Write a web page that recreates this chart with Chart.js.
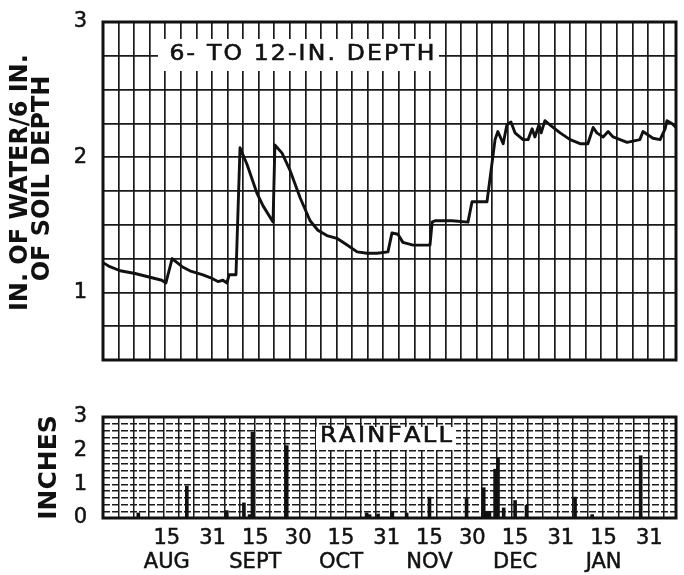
<!DOCTYPE html>
<html><head><meta charset="utf-8">
<script src="https://cdn.jsdelivr.net/npm/chart.js@4.4.1/dist/chart.umd.min.js"></script>
<style>
html,body{margin:0;padding:0;background:#fff;}
#wrap{position:relative;width:684px;height:575px;overflow:hidden;background:#fff;}
#c1{position:absolute;left:0;top:0;}
#c2{position:absolute;left:0;top:380px;}
</style></head><body>
<div id="wrap">
<canvas id="c1" width="684" height="370"></canvas>
<canvas id="c2" width="684" height="195"></canvas>
</div>
<script>
// Days counted from Aug 1 (day 0) to Feb 1 (day 184)
const waterDays = [0,2.2,5.5,10.3,15.4,18.9,20.2,22.2,25.4,27.9,32.1,34.4,36.9,38.5,39.8,40.5,42.7,44.0,46.2,49.5,51.4,54.6,55.2,57.5,60.1,63.3,66.5,69.0,71.9,75.1,78.4,81.6,84.8,88.0,91.5,92.8,94.7,96.3,99.6,105.0,105.7,106.6,112.1,117.2,118.5,123.3,125.9,126.8,128.5,129.7,131.0,132.3,134.9,136.5,137.8,138.7,140.0,140.7,141.9,143.5,146.8,150.0,153.2,155.7,157.4,158.6,160.6,162.2,163.8,168.3,172.4,173.4,176.6,178.9,180.5,181.1,182.7,184.0];
const waterValues = [1.22,1.19,1.16,1.14,1.11,1.09,1.07,1.25,1.19,1.16,1.13,1.11,1.08,1.09,1.07,1.13,1.13,2.07,1.95,1.73,1.64,1.52,2.09,2.03,1.90,1.70,1.53,1.46,1.42,1.40,1.35,1.30,1.29,1.29,1.30,1.44,1.43,1.37,1.35,1.35,1.52,1.53,1.53,1.52,1.67,1.67,2.13,2.19,2.10,2.24,2.26,2.18,2.13,2.13,2.21,2.15,2.24,2.18,2.27,2.24,2.18,2.13,2.10,2.10,2.22,2.18,2.15,2.19,2.15,2.11,2.13,2.19,2.14,2.13,2.21,2.27,2.25,2.22];

const rainDays = [4,21,35,41,43,44,56,84,85,88,93,98,106,119,125,126,127,129,130,132,136,140,157,163,180];
const rainInches = [0.15,0.95,0.22,0.45,0.1,2.55,2.15,0.15,0.1,0.12,0.2,0.15,0.62,0.58,0.9,0.2,0.2,1.45,1.8,0.3,0.52,0.38,0.62,0.1,1.85];

const tickDays = [14,30,45,60,75,91,106,121,136,152,167,183];
const tickNumbers = ['15','31','15','30','15','31','15','30','15','31','15','31'];
const tickMonths = ['AUG','','SEPT','','OCT','','NOV','','DEC','','JAN',''];

const dayMin = 0, dayMax = 184, gridStep = 5;
const FONT = "'DejaVu Sans', sans-serif";
const INK = '#111';

Chart.defaults.font.family = FONT;
Chart.defaults.color = INK;

function gridTicks(scale){
  const t = [];
  for (let d = dayMin; d <= dayMax - 1; d += gridStep) t.push({value: d});
  scale.ticks = t;
}
function isWhole(v){ return Math.abs(v - Math.round(v)) < 1e-6; }

// draws text stretched horizontally by sx, with extra spacing so that it spans targetWidth
function stretchedText(ctx, text, cx, cy, font, sx, targetWidth){
  ctx.save();
  ctx.font = font;
  ctx.fillStyle = INK;
  ctx.strokeStyle = INK;
  ctx.lineWidth = 0.6;
  ctx.textBaseline = 'middle';
  ctx.textAlign = 'left';
  const chars = [...text];
  const widths = chars.map(c => ctx.measureText(c).width * sx);
  const natural = widths.reduce((a,b)=>a+b,0);
  const gap = chars.length > 1 ? (targetWidth - natural) / (chars.length - 1) : 0;
  let x = cx - targetWidth / 2;
  chars.forEach((c,i) => {
    ctx.save();
    ctx.translate(x, cy);
    ctx.scale(sx, 1);
    ctx.fillText(c, 0, 0);
    ctx.strokeText(c, 0, 0);
    ctx.restore();
    x += widths[i] + gap;
  });
  ctx.restore();
}

function framePlugin(label){
  return {
    id: 'frame_' + label.text.replace(/\W/g,''),
    beforeDatasetsDraw(chart){
      const ctx = chart.ctx;
      ctx.save();
      ctx.fillStyle = '#fff';
      ctx.fillRect(label.bx, label.by, label.bw, label.bh);
      ctx.restore();
      stretchedText(ctx, label.text, label.cx, label.cy, label.font, label.sx, label.tw);
    },
    afterDatasetsDraw(chart){
      const {ctx, chartArea: a} = chart;
      ctx.save();
      ctx.strokeStyle = INK;
      ctx.lineWidth = 3;
      ctx.strokeRect(a.left, a.top, a.right - a.left, a.bottom - a.top);
      ctx.restore();
    }
  };
}

function fixY(s){ s.width = 103; s.paddingTop = 0; s.paddingBottom = 0; }
function fixX(h){ return s => { s.height = h; s.paddingLeft = 0; s.paddingRight = 0; }; }
const tickFont = {size: 21};
const tickInk = {color: INK, textStrokeColor: INK, textStrokeWidth: 0.5};

// ---------- top chart: soil water ----------
new Chart(document.getElementById('c1'), {
  type: 'line',
  data: {
    datasets: [{
      data: waterDays.map((d,i) => ({x: d, y: waterValues[i]})),
      borderColor: INK,
      borderWidth: 2.9,
      borderJoinStyle: 'round',
      pointRadius: 0,
      tension: 0,
      fill: false
    }]
  },
  options: {
    responsive: false,
    animation: false,
    devicePixelRatio: 1,
    layout: {padding: {top: 22, right: 8, bottom: 10, left: 0}},
    plugins: {legend: {display: false}, tooltip: {enabled: false}},
    scales: {
      x: {
        type: 'linear', min: dayMin, max: dayMax,
        afterBuildTicks: gridTicks,
        ticks: {display: false},
        grid: {color: '#1a1a1a', lineWidth: 1.7, drawTicks: false},
        border: {display: false},
        afterFit: fixX(0)
      },
      y: {
        min: 0.5, max: 3,
        ticks: Object.assign({stepSize: 0.25, autoSkip: false, padding: 16, font: tickFont,
          callback: v => isWhole(v) ? String(Math.round(v)) : ''}, tickInk),
        grid: {color: '#1a1a1a', lineWidth: 1.7, drawTicks: false},
        border: {display: false},
        title: {display: true, text: ['\u00a0\u00a0IN. OF WATER/6 IN.', '\u00a0\u00a0\u00a0OF SOIL DEPTH'],
          font: {size: 24, weight: 'bold', lineHeight: 0.92}, color: INK, padding: {top: 10, bottom: 0}},
        afterFit: fixY
      }
    }
  },
  plugins: [framePlugin({text: '6- TO 12-IN. DEPTH', bx: 158, by: 39, bw: 281, bh: 32,
    cx: 302, cy: 55, font: "21px " + FONT, sx: 1.12, tw: 265})]
});

// ---------- bottom chart: rainfall ----------
new Chart(document.getElementById('c2'), {
  type: 'bar',
  data: {
    datasets: [{
      data: rainDays.map((d,i) => ({x: d, y: rainInches[i]})),
      backgroundColor: INK,
      borderWidth: 0,
      barThickness: 3,
      xAxisID: 'x'
    }]
  },
  options: {
    responsive: false,
    animation: false,
    devicePixelRatio: 1,
    layout: {padding: {top: 37, right: 8, bottom: 0, left: 0}},
    plugins: {legend: {display: false}, tooltip: {enabled: false}},
    scales: {
      x: {
        type: 'linear', min: dayMin, max: dayMax, position: 'bottom',
        afterBuildTicks: s => { s.ticks = tickDays.map(v => ({value: v})); },
        ticks: Object.assign({autoSkip: false, maxRotation: 0, padding: 8,
          font: {size: 21, lineHeight: 1.15},
          callback: (v, i) => tickMonths[i] ? [tickNumbers[i], tickMonths[i]] : tickNumbers[i]}, tickInk),
        grid: {display: false, drawTicks: false},
        border: {display: false},
        afterFit: fixX(57)
      },
      xg: {
        type: 'linear', min: dayMin, max: dayMax, position: 'bottom',
        afterBuildTicks: gridTicks,
        ticks: {display: false},
        grid: {color: '#1a1a1a', lineWidth: 1.5, drawTicks: false},
        border: {display: false},
        afterFit: fixX(0)
      },
      y: {
        min: 0, max: 3,
        ticks: Object.assign({stepSize: 0.2, autoSkip: false, padding: 16, font: tickFont,
          callback: v => isWhole(v) ? String(Math.round(v)) : ''}, tickInk),
        grid: {color: '#1a1a1a', lineWidth: 1.4, drawTicks: false},
        border: {display: false, dash: [7, 2]},
        title: {display: true, text: 'INCHES', font: {size: 25, weight: 'bold', lineHeight: 1}, color: INK,
          padding: {top: 36.5, bottom: 0}},
        afterFit: fixY
      }
    }
  },
  plugins: [framePlugin({text: 'RAINFALL', bx: 316, by: 47, bw: 140, bh: 23,
    cx: 386, cy: 57, font: "21px " + FONT, sx: 1.15, tw: 132})]
});
</script>
</body></html>
